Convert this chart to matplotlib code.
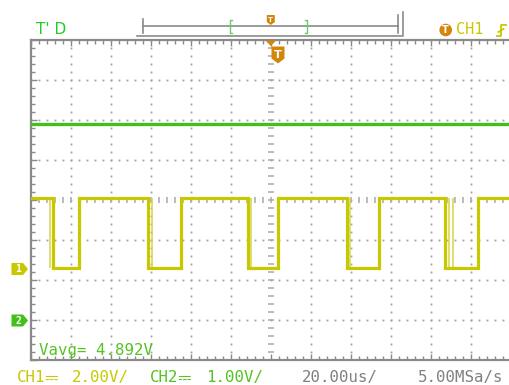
import numpy as np
import matplotlib.pyplot as plt
from matplotlib.patches import Polygon, Circle

# scope capture: CH1 square wave (2 V/div), CH2 DC level (1 V/div), 20 us/div
t_span = (-120.0, 120.0)  # us, 12 divisions

ch1_high = 3.52  # V
ch1_low = 0.0
ch1_fall = [-109.1, -61.35, -11.6, 38.15, 86.9]  # us
ch1_rise = [-96.0, -45.1, 3.5, 53.8, 103.3]
ch1_ghost_fall = [-110.6, -59.6, -9.85, 39.65, 89.15, 90.9]  # persistence edges

ch2_level = 4.90  # V
ch2_t = [-120.0, 120.0]

vavg_text = "Vavg= 4.892V"
ch1_scale = "2.00V/"
ch2_scale = "1.00V/"
time_scale = "20.00us/"
sample_rate = "5.00MSa/s"

W, H = 509, 385
YEL = '#c8c800'
YEL_LIGHT = '#d4d44a'
GRN = '#44c01a'
TXT_GRN = '#22cc22'
ORG = '#d4860b'
GRAY = '#8a8a8a'
MONO = ['DejaVu Sans Mono', 'STIXGeneral', 'STIXNonUnicode', 'DejaVu Sans']

fig = plt.figure(figsize=(W / 100, H / 100), dpi=100)
fig.patch.set_facecolor('white')

# screen area in pixels: left 31, top 40, 40 px per division
rect = [31 / W, (H - 360) / H, 480 / W, 320 / H]

# graticule in division units
scr = fig.add_axes(rect, zorder=0)
scr.set_xlim(-6, 6)
scr.set_ylim(-4, 4)
for s in ['left', 'top', 'bottom']:
    scr.spines[s].set_color(GRAY)
    scr.spines[s].set_linewidth(1.6)
scr.spines['right'].set_visible(False)
scr.set_xticks(np.arange(-6, 7, 1))
scr.set_xticks(np.arange(-6, 6.01, 0.2), minor=True)
scr.set_yticks(np.arange(-4, 5, 1))
scr.set_yticks(np.arange(-4, 4.01, 0.2), minor=True)
scr.tick_params(which='both', direction='in', color=GRAY, width=1,
                labelbottom=False, labelleft=False, top=True, left=True,
                bottom=True, right=False)
scr.tick_params(which='major', length=4)
scr.tick_params(which='minor', length=3)

fine = np.arange(-6, 6.01, 0.2)
fine_y = np.arange(-4, 4.01, 0.2)
for gx in range(-5, 6):
    if gx == 0:
        continue
    scr.plot(np.full_like(fine_y, gx), fine_y, ls='none', marker='s',
             ms=1.3, mec='none', mfc='#a0a0a0')
for gy in range(-3, 4):
    if gy == 0:
        continue
    scr.plot(fine, np.full_like(fine, gy), ls='none', marker='s',
             ms=1.3, mec='none', mfc='#a0a0a0')
# centre axes carry small cross ticks
scr.plot(np.zeros_like(fine_y), fine_y, ls='none', marker='_', ms=4.5,
         mew=1.1, color='#a8a8a8')
scr.plot(fine, np.zeros_like(fine), ls='none', marker='|', ms=4.5,
         mew=1.1, color='#a8a8a8')

# CH1 trace, ground 2.3 div above the bottom
ax1 = fig.add_axes(rect, zorder=1)
ax1.set_xlim(*t_span)
ax1.set_ylim(-4.6, 11.4)
ax1.axis('off')
ax1.patch.set_visible(False)

t_steps = [t_span[0]]
v_steps = [ch1_high]
for f, r in zip(ch1_fall, ch1_rise):
    t_steps += [f, f, r, r]
    v_steps += [ch1_high, ch1_low, ch1_low, ch1_high]
t_steps.append(t_span[1])
v_steps.append(ch1_high)
ax1.vlines(ch1_ghost_fall, ch1_low, ch1_high, color=YEL_LIGHT, lw=1.1)
ax1.plot(t_steps, v_steps, color=YEL, lw=2.3, solid_joinstyle='miter')

# CH2 trace, ground 1 div above the bottom
ax2 = fig.add_axes(rect, zorder=2)
ax2.set_xlim(*t_span)
ax2.set_ylim(-1, 7)
ax2.axis('off')
ax2.patch.set_visible(False)
ax2.plot(ch2_t, [ch2_level, ch2_level], color=GRN, lw=2.4)

# overlay for the status bar and markers, in pixel units
ov = fig.add_axes([0, 0, 1, 1], zorder=3)
ov.set_xlim(0, W)
ov.set_ylim(H, 0)
ov.axis('off')
ov.patch.set_visible(False)

ov.text(36, 30, "T' D", color=TXT_GRN, fontsize=11, va='center',
        family='DejaVu Sans')

# memory depth bar
ov.plot([142.7, 398.3], [26.3, 26.3], color=GRAY, lw=1.2)
ov.plot([142.7, 142.7], [19, 33], color=GRAY, lw=1.2)
ov.plot([398.3, 398.3], [15, 33], color=GRAY, lw=1.2)
ov.plot([137, 403, 403], [35.5, 35.5, 11.7], color=GRAY, lw=1.2)
ov.plot([232, 230, 230, 232], [20, 20, 33, 33], color='#66cc66', lw=1.0)
ov.plot([305, 307, 307, 305], [20, 20, 33, 33], color='#66cc66', lw=1.0)

def t_marker(cx, top, w, h, tip, fs):
    pts = [(cx - w / 2, top), (cx + w / 2, top), (cx + w / 2, top + h),
           (cx, top + h + tip), (cx - w / 2, top + h)]
    ov.add_patch(Polygon(pts, closed=True, fc=ORG, ec='none'))
    ov.text(cx, top + (h + tip) / 2, 'T', color='white', fontsize=fs,
            fontweight='bold', ha='center', va='center')

t_marker(270.8, 15, 8, 7, 3, 5)
t_marker(278, 46.5, 13, 12, 5, 8)
ov.add_patch(Polygon([(265.3, 40.5), (276.2, 40.5), (270.8, 46)],
                     closed=True, fc=ORG, ec='none'))

# trigger source
ov.add_patch(Circle((445.7, 30), 6.3, fc=ORG, ec='none'))
ov.text(445.7, 30.3, 'T', color='white', fontsize=7, fontweight='bold',
        ha='center', va='center')
ov.text(456.5, 30, 'CH1', color=YEL, fontsize=11, va='center', family=MONO)
ov.plot([497, 501, 501, 506], [36, 36, 25, 25], color=YEL, lw=1.3)
ov.plot([498.5, 503.5], [32, 29], color=YEL, lw=1.3)

# channel ground markers
def ch_marker(cy, color, label):
    pts = [(11.5, cy - 6), (23, cy - 6), (28, cy), (23, cy + 6), (11.5, cy + 6)]
    ov.add_patch(Polygon(pts, closed=True, fc=color, ec='none'))
    ov.text(18, cy + 0.3, label, color='white', fontsize=7, fontweight='bold',
            ha='center', va='center', family=MONO)

ch_marker(269, YEL, '1')
ch_marker(320.5, GRN, '2')

ov.text(39, 350, vavg_text, color='#55c322', fontsize=11.3, va='center',
        family=MONO)

# bottom status line
ov.text(17, 377.5, 'CH1⎓', color=YEL, fontsize=11.3, va='center', family=MONO)
ov.text(72, 377.5, ch1_scale, color=YEL, fontsize=11.3, va='center', family=MONO)
ov.text(150, 377.5, 'CH2⎓', color='#55c322', fontsize=11.3, va='center',
        family=MONO)
ov.text(206, 377.5, ch2_scale, color='#55c322', fontsize=11.3, va='center',
        family=MONO)
ov.text(302, 377.5, time_scale, color='#808080', fontsize=11.3, va='center',
        family=MONO)
ov.text(418, 377.5, sample_rate, color='#808080', fontsize=11.3, va='center',
        family=MONO)

fig.savefig('out.png', dpi=100)
